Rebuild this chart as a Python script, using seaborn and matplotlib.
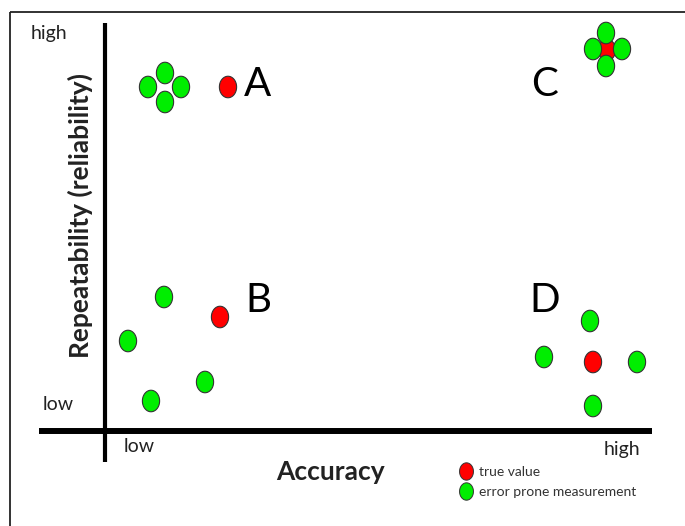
import numpy as np
import pandas as pd
import matplotlib
matplotlib.use("Agg")
import matplotlib.pyplot as plt
from matplotlib.path import Path
from matplotlib.patches import Rectangle
from matplotlib.lines import Line2D
import seaborn as sns

# diagram coordinates (x to the right, y downward, same frame as the picture)
groups = ['A', 'A', 'A', 'A', 'A',
          'B', 'B', 'B', 'B', 'B',
          'C', 'C', 'C', 'C', 'C',
          'D', 'D', 'D', 'D', 'D']
kinds = ['true value', 'error prone measurement', 'error prone measurement', 'error prone measurement', 'error prone measurement',
         'true value', 'error prone measurement', 'error prone measurement', 'error prone measurement', 'error prone measurement',
         'true value', 'error prone measurement', 'error prone measurement', 'error prone measurement', 'error prone measurement',
         'true value', 'error prone measurement', 'error prone measurement', 'error prone measurement', 'error prone measurement']
xs = [228, 165, 148, 181, 165,
      220, 164, 128, 205, 151,
      607, 606, 593, 622, 606,
      593, 590, 544, 637, 593]
ys = [87, 73, 87, 87, 102,
      317, 297, 341, 382, 401,
      50, 33, 49, 49, 66,
      362, 321, 357, 362, 406]

quadrant_letters = ['A', 'B', 'C', 'D']
letter_x = [258, 258, 545, 545]
letter_y = [84, 300, 84, 300]

colors = {'true value': '#ff0000', 'error prone measurement': '#00ee00'}

df = pd.DataFrame({'x': xs, 'y': ys, 'kind': kinds, 'group': groups})
# red first so the green dots of C sit on top of it
df = df.sort_values('kind', ascending=False, kind='stable')

sns.set_theme(style='white')
plt.rcParams['font.family'] = ['Lato', 'DejaVu Sans']

# ellipse marker, a bit taller than wide
t = np.linspace(0, 2 * np.pi, 60)
ellipse = Path(np.column_stack([0.4 * np.cos(t), 0.5 * np.sin(t)]), closed=True)

fig = plt.figure(figsize=(6.85, 5.26), dpi=100)
ax = fig.add_axes([0, 0, 1, 1])
ax.set_xlim(0, 685)
ax.set_ylim(526, 0)
ax.axis('off')

# outer frame (runs off the right and bottom edge)
ax.add_patch(Rectangle((10, 12), 700, 540, fill=False, edgecolor='#222222', lw=1.3))

# axes lines
ax.plot([39, 652], [431, 431], color='black', lw=4.3, solid_capstyle='butt')
ax.plot([105, 105], [23, 462], color='black', lw=3, solid_capstyle='butt')

sns.scatterplot(data=df, x='x', y='y', hue='kind', palette=colors, marker=ellipse,
                s=15.5 ** 2, edgecolor='#333333', linewidth=0.8, legend=False, ax=ax)
ax.set_xlabel('')
ax.set_ylabel('')

for letter, lx, ly in zip(quadrant_letters, letter_x, letter_y):
    ax.text(lx, ly, letter, fontsize=29, ha='center', va='center', color='black')

ax.text(49, 34, 'high', fontsize=14, ha='center', va='center', color='#222222')
ax.text(58, 405, 'low', fontsize=14, ha='center', va='center', color='#222222')
ax.text(139, 447, 'low', fontsize=14, ha='center', va='center', color='#222222')
ax.text(622, 449, 'high', fontsize=14, ha='center', va='center', color='#222222')
ax.text(330, 472, 'Accuracy', fontsize=19, fontweight='bold', ha='center', va='center', color='#222222')
ax.text(80, 216, 'Repeatability (reliability)', fontsize=19, fontweight='bold', rotation=90,
        ha='center', va='center', color='#222222')

handles = [Line2D([], [], linestyle='', marker=ellipse, markersize=12.5, markerfacecolor=colors[k],
                  markeredgecolor='#333333', markeredgewidth=0.7, label=k)
           for k in ['true value', 'error prone measurement']]
leg = ax.legend(handles=handles, loc='upper left', bbox_to_anchor=(452 / 685, 1 - 460 / 526),
                frameon=False, fontsize=10, handletextpad=0.35, labelspacing=0.6,
                handlelength=1.2, borderaxespad=0)
for txt in leg.get_texts():
    txt.set_color('#333333')

fig.savefig('out.png', dpi=100)
